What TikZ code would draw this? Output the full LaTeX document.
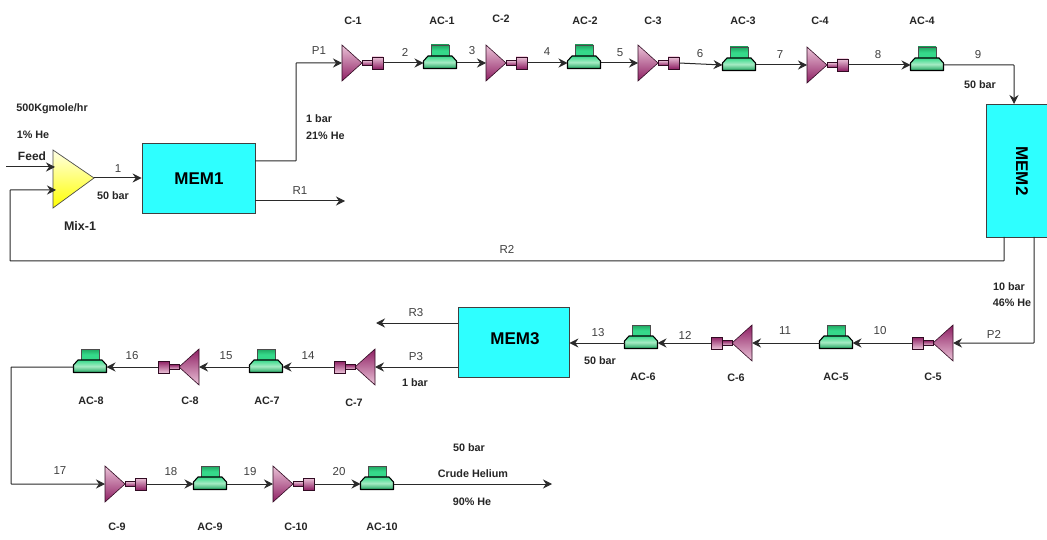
\documentclass[tikz,border=0pt]{standalone}
\usepackage{fontspec}
\setmainfont{Liberation Sans}
\usetikzlibrary{arrows.meta}
\definecolor{linec}{HTML}{2A2A2A}
\definecolor{memc}{HTML}{2EFFFF}
\definecolor{plight}{HTML}{EBC3D8}
\definecolor{pdark}{HTML}{8E1F63}
\definecolor{glight}{HTML}{A5EBC3}
\definecolor{gmid}{HTML}{35D98A}
\definecolor{gdark}{HTML}{1FA560}
\tikzset{
  flow/.style={draw=linec,line width=1pt,-{Stealth[length=9pt,width=9pt,inset=3pt]},rounded corners=0.5pt},
  memb/.style={draw=black!75,line width=0.8pt,fill=memc},
  lab/.style={font=\fontsize{11.5}{13}\selectfont,text=black!75,inner sep=0pt},
  blab/.style={font=\fontsize{10.8}{13}\bfseries\selectfont,text=black!85,inner sep=0pt},
  memlab/.style={font=\fontsize{17}{18}\bfseries\selectfont,inner sep=0pt},
  eqedge/.style={draw=black!65!pdark,line width=0.6pt},
  coolerline/.style={draw=black,line width=1.1pt,line join=round},
}
% compressor: base at x, centre y, dir=1 apex to the right, dir=-1 apex to the left
\newcommand{\compr}[4]{%
  \begin{scope}[shift={(#2,#3)},xscale=#4]
    \ifnum#4=1\relax
      \path[eqedge,top color=plight,bottom color=pdark] (0,-18)--(20,0)--(0,18)--cycle;
      \path[eqedge,top color=plight,bottom color=pdark] (20,-2.5) rectangle (30,2.5);
      \path[eqedge,top color=plight,bottom color=pdark] (30,-6) rectangle (41,6);
    \else
      \path[eqedge,top color=pdark,bottom color=plight] (0,-18)--(20,0)--(0,18)--cycle;
      \path[eqedge,top color=pdark,bottom color=plight] (20,-2.5) rectangle (30,2.5);
      \path[eqedge,top color=pdark,bottom color=plight] (30,-6) rectangle (41,6);
    \fi
    \coordinate (#1-in) at (0,0);
    \coordinate (#1-out) at (41,0);
  \end{scope}}
% air cooler: centre x, flow line y
\newcommand{\cooler}[3]{%
  \begin{scope}[shift={(#2,#3)}]
    \path[draw=black!70,line width=0.7pt,top color=gdark,bottom color=gmid,middle color=gmid] (-9,-18) rectangle (9,-7);
    \path[coolerline,top color=gmid,bottom color=gdark,middle color=glight]
      (-12,-7)--(12,-7)--(16.5,-2)--(16.5,5.5)--(-16.5,5.5)--(-16.5,-2)--cycle;
    \coordinate (#1-l) at (-16.5,0);
    \coordinate (#1-r) at (16.5,0);
  \end{scope}}
\begin{document}
\begin{tikzpicture}[x=1pt,y=-1pt]
\useasboundingbox[fill=white] (0,0) rectangle (1047,540);
% membranes
\node[memb,minimum width=113pt,minimum height=70pt,inner sep=0pt] (mem1) at (198.5,178) {};
\node[memlab] (mem1t) at (199,179) {MEM1};
\node[memb,minimum width=63pt,minimum height=133pt,inner sep=0pt] (mem2) at (1017.5,170.5) {};
\node[memlab,rotate=-90] (mem2t) at (1022,171) {MEM2};
\node[memb,minimum width=111pt,minimum height=70pt,inner sep=0pt] (mem3) at (513.5,342) {};
\node[memlab] (mem3t) at (515,339) {MEM3};
% mixer
\path[draw=black!70,line width=0.7pt,top color=white!90!yellow,bottom color=yellow] (53,150)--(94,178)--(53,208)--cycle;
\coordinate (mix-in1) at (55,167);
\coordinate (mix-in2) at (56,190);
\coordinate (mix-out) at (94,178);
% equipment
\compr{c1}{342}{63}{1}
\cooler{ac1}{440}{63}
\compr{c2}{486}{63}{1}
\cooler{ac2}{584}{63}
\compr{c3}{638}{63}{1}
\cooler{ac3}{739}{65}
\compr{c4}{807}{65}{1}
\cooler{ac4}{927}{65}
\compr{c5}{953}{343}{-1}
\cooler{ac5}{836}{343}
\compr{c6}{752}{343}{-1}
\cooler{ac6}{641}{343}
\compr{c7}{375}{367}{-1}
\cooler{ac7}{266}{367}
\compr{c8}{199}{367}{-1}
\cooler{ac8}{90}{367}
\compr{c9}{105}{484}{1}
\cooler{ac9}{210}{484}
\compr{c10}{273}{484}{1}
\cooler{ac10}{377}{484}
% free ends
\coordinate (feedstart) at (6,167);
\coordinate (r1end) at (345,201);
\coordinate (r3end) at (376,323);
\coordinate (heend) at (552,484);
\coordinate (p1a) at (296,161);
\coordinate (p1b) at (296,63);
\coordinate (c9a) at (11,367);
\coordinate (c9b) at (11,484);
\coordinate (m2a) at (1014,65);
\coordinate (m2b) at (1014,104);
\coordinate (r2a) at (1004,237);
\coordinate (r2b) at (1004,261);
\coordinate (r2c) at (10,261);
\coordinate (r2d) at (10,190);
\coordinate (p2a) at (1034,237);
\coordinate (p2b) at (1034,343);
\coordinate (p1s) at (255,161);
% connectors
\draw[flow] (feedstart) -- (mix-in1);
\draw[flow] (mix-out) -- (mem1.west);
\draw[flow] (p1s) -- (p1a) -- (p1b) -- (c1-in);
\draw[flow] (mem1.east |- r1end) -- (r1end);
\draw[flow] (c1-out) -- (ac1-l);
\draw[flow] (ac1-r) -- (c2-in);
\draw[flow] (c2-out) -- (ac2-l);
\draw[flow] (ac2-r) -- (c3-in);
\draw[flow] (c3-out) -- (ac3-l);
\draw[flow] (ac3-r) -- (c4-in);
\draw[flow] (c4-out) -- (ac4-l);
\draw[flow] (ac4-r) -- (m2a) -- (m2b);
\draw[flow] (r2a) -- (r2b) -- (r2c) -- (r2d) -- (mix-in2);
\draw[flow] (p2a) -- (p2b) -- (c5-in);
\draw[flow] (c5-out) -- (ac5-r);
\draw[flow] (ac5-l) -- (c6-in);
\draw[flow] (c6-out) -- (ac6-r);
\draw[flow] (ac6-l) -- (mem3.east |- ac6-l);
\draw[flow] (mem3.west |- r3end) -- (r3end);
\draw[flow] (mem3.west |- c7-in) -- (c7-in);
\draw[flow] (c7-out) -- (ac7-r);
\draw[flow] (ac7-l) -- (c8-in);
\draw[flow] (c8-out) -- (ac8-r);
\draw[flow] (ac8-l) -- (c9a) -- (c9b) -- (c9-in);
\draw[flow] (c9-out) -- (ac9-l);
\draw[flow] (ac9-r) -- (c10-in);
\draw[flow] (c10-out) -- (ac10-l);
\draw[flow] (ac10-r) -- (heend);
% labels
\node[blab] (t1) at (52,109) {500Kgmole/hr};
\node[blab] (t2) at (33,135) {1\% He};
\node[blab,font=\fontsize{12}{13}\bfseries\selectfont] (t3) at (32,156) {Feed};
\node[lab] (n1) at (118,169) {1};
\node[blab] (t4) at (113,196) {50 bar};
\node[blab,font=\fontsize{12.5}{13}\bfseries\selectfont] (t5) at (80,226) {Mix-1};
\node[lab] (p1) at (319,51) {P1};
\node[blab,anchor=west] (t6) at (306,119) {1 bar};
\node[blab,anchor=west] (t7) at (306,136) {21\% He};
\node[lab] (r1) at (300,191) {R1};
\node[blab] at (353,21) (l1) {C-1};
\node[blab] at (442,21) (l2) {AC-1};
\node[blab] at (501,19) (l3) {C-2};
\node[blab] at (585,21) (l4) {AC-2};
\node[blab] at (653,21) (l5) {C-3};
\node[blab] at (743,21) (l6) {AC-3};
\node[blab] at (820,21) (l7) {C-4};
\node[blab] at (922,21) (l8) {AC-4};
\node[lab] at (405,52) (n2) {2};
\node[lab] at (472,51) (n3) {3};
\node[lab] at (547,52) (n4) {4};
\node[lab] at (620,53) (n5) {5};
\node[lab] at (700,54) (n6) {6};
\node[lab] at (780,55) (n7) {7};
\node[lab] at (878,55) (n8) {8};
\node[lab] at (978,55) (n9) {9};
\node[blab] at (980,85) (t8) {50 bar};
\node[lab] at (507,249) (r2) {R2};
\node[blab] at (1009,287) (t9) {10 bar};
\node[blab] at (1012,303) (t10) {46\% He};
\node[lab] at (994,334) (p2) {P2};
\node[lab] at (880,331) (n10) {10};
\node[lab] at (785,331) (n11) {11};
\node[lab] at (685,335) (n12) {12};
\node[lab] at (598,333) (n13) {13};
\node[blab] at (600,361) (t11) {50 bar};
\node[blab] at (933,377) (l9) {C-5};
\node[blab] at (836,377) (l10) {AC-5};
\node[blab] at (736,378) (l11) {C-6};
\node[blab] at (643,377) (l12) {AC-6};
\node[lab] at (416,313) (r3) {R3};
\node[lab] at (416,357) (p3) {P3};
\node[blab] at (415,383) (t12) {1 bar};
\node[blab] at (354,403) (l13) {C-7};
\node[blab] at (267,401) (l14) {AC-7};
\node[blab] at (190,401) (l15) {C-8};
\node[blab] at (91,401) (l16) {AC-8};
\node[lab] at (308,356) (n14) {14};
\node[lab] at (226,356) (n15) {15};
\node[lab] at (132,356) (n16) {16};
\node[lab] at (60,471) (n17) {17};
\node[lab] at (171,472) (n18) {18};
\node[lab] at (250,472) (n19) {19};
\node[lab] at (339,472) (n20) {20};
\node[blab] at (117,527) (l17) {C-9};
\node[blab] at (210,527) (l18) {AC-9};
\node[blab] at (296,527) (l19) {C-10};
\node[blab] at (382,527) (l20) {AC-10};
\node[blab] at (469,448) (t13) {50 bar};
\node[blab] at (473,474) (t14) {Crude Helium};
\node[blab] at (472,502) (t15) {90\% He};
\end{tikzpicture}
\end{document}
